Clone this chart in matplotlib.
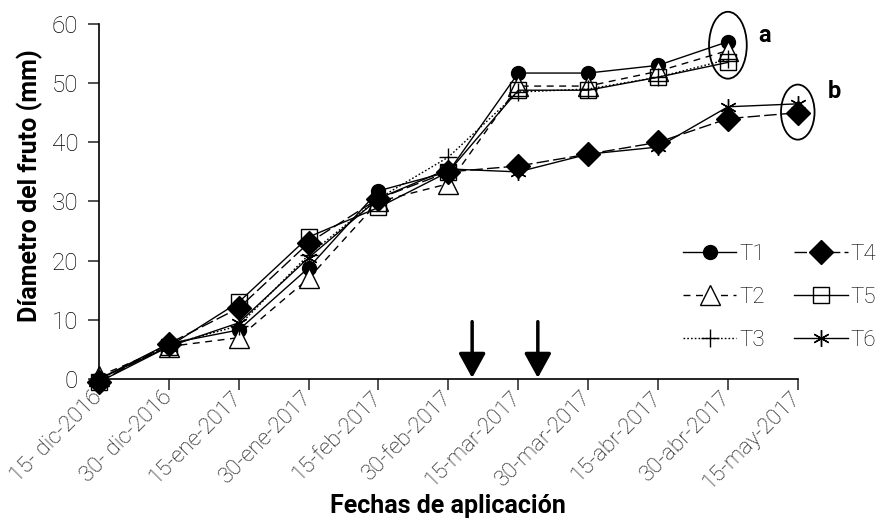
import matplotlib
matplotlib.use("Agg")
import matplotlib.pyplot as plt
from matplotlib.patches import Ellipse

plt.rcParams['font.family'] = ['Roboto', 'DejaVu Sans']

fechas = ['15- dic-2016', '30- dic-2016', '15-ene-2017', '30-ene-2017', '15-feb-2017',
          '30-feb-2017', '15-mar-2017', '30-mar-2017', '15-abr-2017', '30-abr-2017',
          '15-may-2017']

# diametro del fruto (mm) por tratamiento
t1 = [0, 6, 8.3, 18.8, 31.8, 35, 51.7, 51.7, 53, 57]
t2 = [0.5, 5.5, 7, 17, 30, 33, 49.5, 49.5, 52, 55.5]
t3 = [0, 5.8, 9, 21, 30.5, 37.5, 48.5, 49, 51, 54]
t4 = [-0.5, 6, 12, 23, 30.5, 35, 36, 38, 40, 44, 45]
t5 = [-0.5, 5.5, 13, 24, 29, 35, 48.8, 48.8, 51, 53.5]
t6 = [0, 5.5, 9.5, 20.5, 30.5, 35.5, 35, 38, 39.2, 46, 46.5]

# aplicaciones (flechas), posicion entre fechas
aplicaciones = [5.34, 6.28]

fig = plt.figure(figsize=(8.79, 5.2), dpi=100)
ax = fig.add_axes([0.1126, 0.271, 0.795, 0.683])

series = [
    ("T1", t1, dict(marker='o', ms=10, mfc='black', ls='-')),
    ("T2", t2, dict(marker='^', ms=15, mfc='white', ls=(0, (5, 4)))),
    ("T3", t3, dict(marker='+', ms=13, mfc='white', ls=(0, (1.2, 1.5)))),
    ("T4", t4, dict(marker='D', ms=12, mfc='black', ls=(0, (9, 3)))),
    ("T5", t5, dict(marker='s', ms=12, mfc='none', ls='-')),
    ("T6", t6, dict(marker=(6, 2, 0), ms=12, mfc='black', ls='-')),
]
for name, vals, st in series:
    ax.plot(range(len(vals)), vals, color='black', lw=1.0, mec='black', mew=1.0,
            label=name, clip_on=False, **st)

ax.set_xlim(0, 10)
ax.set_ylim(0, 60)
ax.set_yticks(range(0, 61, 10))
ax.set_xticks(range(len(fechas)))
ax.set_xticklabels(fechas, rotation=45, ha='right', va='center', rotation_mode='anchor',
                   fontsize=16, fontweight='light', color='black')
for lbl in ax.get_yticklabels():
    lbl.set_fontsize(17.5)
    lbl.set_fontweight('light')
    lbl.set_color('black')
ax.tick_params(axis='both', direction='out', length=8, width=1.2, color='#333333')
ax.tick_params(axis='y', pad=7)
ax.tick_params(axis='x', pad=3)
ax.spines['top'].set_visible(False)
ax.spines['right'].set_visible(False)
ax.spines['left'].set_linewidth(1.2)
ax.spines['bottom'].set_linewidth(1.2)

ax.set_ylabel("Díametro del fruto (mm)", fontsize=18, fontweight='bold')
ax.yaxis.set_label_coords(-0.08, 0.545)
ax.set_xlabel("Fechas de aplicación", fontsize=18, fontweight='bold')
ax.xaxis.set_label_coords(0.5, -0.324)

for xa in aplicaciones:
    ax.annotate('', xy=(xa, 0.2), xytext=(xa, 9.7), annotation_clip=False,
                arrowprops=dict(arrowstyle='-|>,head_length=0.6,head_width=0.33',
                                mutation_scale=25, lw=2.5, color='black',
                                shrinkA=0, shrinkB=0))

ax.add_patch(Ellipse((9, 56.4), 0.54, 11.3, fill=False, lw=1.3, ec='black', clip_on=False))
ax.add_patch(Ellipse((10, 45.1), 0.48, 9.3, fill=False, lw=1.3, ec='black', clip_on=False))
ax.text(9.52, 58.0, 'a', fontsize=17, fontweight='bold', ha='center', va='center')
ax.text(10.52, 48.5, 'b', fontsize=17, fontweight='bold', ha='center', va='center')

fig.legend(loc='upper left', bbox_to_anchor=(683 / 879, 1 - 244 / 520), ncol=2,
           frameon=False, handlelength=2.4, handletextpad=0.15,
           columnspacing=1.3, labelspacing=0.98, borderpad=0, borderaxespad=0,
           prop={'size': 16, 'weight': 'light'})

fig.savefig("out.png", dpi=100)
